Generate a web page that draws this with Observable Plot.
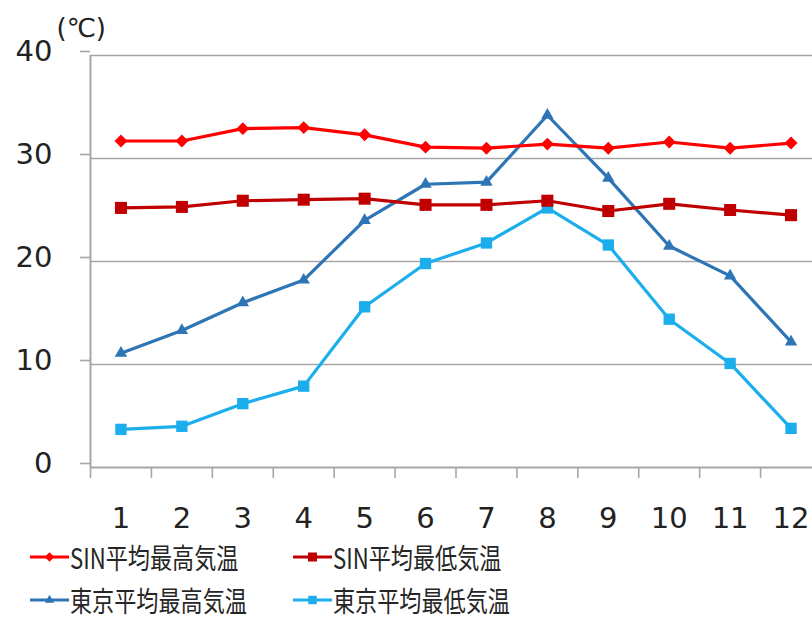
<!DOCTYPE html>
<html>
<head>
<meta charset="utf-8">
<script src="https://cdn.jsdelivr.net/npm/d3@7"></script>
<script src="https://cdn.jsdelivr.net/npm/@observablehq/plot@0.6"></script>
<style>
  html, body { margin: 0; padding: 0; background: #fff; }
  #wrap { position: relative; width: 812px; height: 622px; overflow: hidden; }
  #legend { position: absolute; left: 30px; top: 535px; width: 780px;
            font-family: "Noto Sans CJK JP", "Noto Sans", sans-serif; font-size: 28px; color: #262626; }
  .row { display: flex; height: 43px; align-items: center; }
  .item { display: flex; align-items: center; width: 263px; }
  .item svg { flex: none; }
  .item span { margin-left: 1px; white-space: nowrap; display: inline-block;
               transform: scaleX(0.79); transform-origin: left center; }
</style>
</head>
<body>
<div id="wrap">
  <div id="chart"></div>
  <div id="legend"></div>
</div>
<script>
const months = [1, 2, 3, 4, 5, 6, 7, 8, 9, 10, 11, 12];
const monthBoundaries = [0.5, 1.5, 2.5, 3.5, 4.5, 5.5, 6.5, 7.5, 8.5, 9.5, 10.5, 11.5, 12.5];
const yTicks = [0, 10, 20, 30, 40];
const unitLabel = "(℃)";

const seriesNames = ["SIN平均最高気温", "SIN平均最低気温", "東京平均最高気温", "東京平均最低気温"];
const sinMax   = [31.7, 31.7, 32.9, 33.0, 32.3, 31.1, 31.0, 31.4, 31.0, 31.6, 31.0, 31.5];
const sinMin   = [25.2, 25.3, 25.9, 26.0, 26.1, 25.5, 25.5, 25.9, 24.9, 25.6, 25.0, 24.5];
const tokyoMax = [11.1, 13.3, 16.0, 18.2, 24.0, 27.5, 27.7, 34.2, 28.1, 21.5, 18.6, 12.2];
const tokyoMin = [3.7, 4.0, 6.2, 7.9, 15.6, 19.8, 21.8, 25.2, 21.6, 14.4, 10.1, 3.8];

const colors  = ["#FF0000", "#C00000", "#2E75B6", "#1CAEEC"];
const symbols = ["diamond2", "square", "triangle", "square"];
const radii   = [5.8, 6.8, 4.6, 6.4];

const allValues = [sinMax, sinMin, tokyoMax, tokyoMin];
const series = allValues.map((vals, i) => ({
  name: seriesNames[i], color: colors[i], symbol: symbols[i], r: radii[i],
  data: months.map((m, j) => ({month: m, value: vals[j]}))
}));

// draw order: reference shows SIN series on top
const drawOrder = [3, 2, 1, 0];
const seriesMarks = drawOrder.flatMap(i => {
  const s = series[i];
  return [
    Plot.line(s.data, {x: "month", y: "value", stroke: s.color, strokeWidth: 3.2, curve: "linear"}),
    Plot.dot(s.data, {x: "month", y: "value", fill: s.color, stroke: "none", symbol: () => s.symbol, r: s.r})
  ];
});

const grid = "#a6a6a6";
const chart = Plot.plot({
  width: 812,
  height: 545,
  marginLeft: 90,
  marginTop: 55,
  marginBottom: 78,
  marginRight: 0,
  x: {type: "linear", domain: [0.5, 12.5], range: [90, 821]},
  y: {domain: [0, 40]},
  symbol: {type: "identity"},
  style: {fontFamily: "'DejaVu Sans', Verdana, sans-serif", fontSize: "29px", color: "#222", background: "#fff", overflow: "visible"},
  marks: [
    Plot.ruleY(yTicks.slice(1), {stroke: grid, strokeWidth: 1.6}),
    Plot.axisY({ticks: yTicks, tickSize: 10, tickPadding: 28, stroke: grid, strokeWidth: 1.6, label: null, dy: -4, fontSize: 29}),
    Plot.ruleX([0.5], {y1: 0, y2: 40, stroke: grid, strokeWidth: 2}),
    Plot.ruleY([0], {stroke: grid, strokeWidth: 2}),
    Plot.axisX({ticks: monthBoundaries, tickSize: 11, tickFormat: () => "", stroke: grid, strokeWidth: 1.6, label: null}),
    Plot.axisX({ticks: months, tickSize: 0, tickPadding: 40, label: null, fontSize: 29}),
    Plot.text([unitLabel], {frameAnchor: "top-left", text: d => d, dx: -34, dy: -37, textAnchor: "start", fontSize: 26, fill: "#222"}),
    ...seriesMarks
  ]
});
document.getElementById("chart").appendChild(chart);

// legend
const legend = d3.select("#legend");
const rows = [[0, 1], [2, 3]];
const symMap = {diamond2: d3.symbolDiamond2, square: d3.symbolSquare, triangle: d3.symbolTriangle};
rows.forEach(r => {
  const row = legend.append("div").attr("class", "row");
  r.forEach(i => {
    const s = series[i];
    const item = row.append("div").attr("class", "item");
    const svg = item.append("svg").attr("width", 39).attr("height", 20);
    svg.append("line").attr("x1", 0).attr("x2", 39).attr("y1", 10).attr("y2", 10)
      .attr("stroke", s.color).attr("stroke-width", 3);
    svg.append("path").attr("transform", "translate(19.5,10)")
      .attr("d", d3.symbol(symMap[s.symbol], Math.PI * (s.r * 0.75) ** 2)())
      .attr("fill", s.color);
    item.append("span").text(s.name);
  });
});
</script>
</body>
</html>
